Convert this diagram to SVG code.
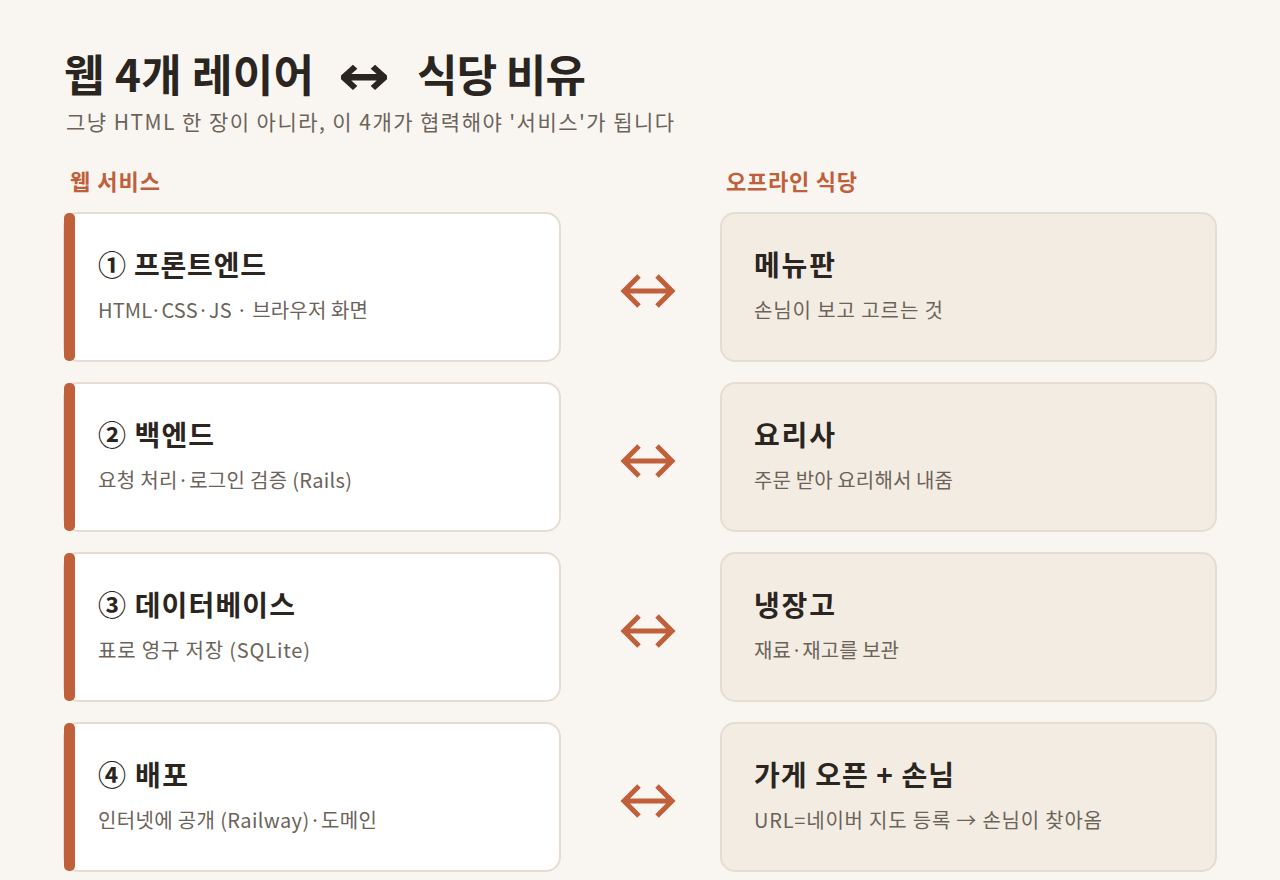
<svg xmlns="http://www.w3.org/2000/svg" width="1280" height="880" viewBox="0 0 1280 880">
<defs>
<style>
text{font-family:"Noto Sans CJK KR","Noto Sans",sans-serif}
.title{font-size:44px;font-weight:700;fill:#2a2520}
.sym{font-family:"DejaVu Sans",sans-serif;font-size:56px;font-weight:700;fill:#2a2520}
.sub{font-size:21px;fill:#6b635a}
.sec{font-size:22px;font-weight:700;fill:#c0603a}
.lcard{fill:#ffffff;stroke:#e6ddd2;stroke-width:2}
.rcard{fill:#f3ece2;stroke:#e6ddd2;stroke-width:2}
.bar{fill:#c0603a}
.ct{font-size:28px;font-weight:700;fill:#2a2520}
.cs{font-size:20px;fill:#6b635a}
.arr{fill:none;stroke:#c0603a;stroke-width:5;stroke-linecap:butt;stroke-linejoin:miter}
</style>
</defs>
<rect width="1280" height="880" fill="#f9f6f1"/>
<text class="title" x="64" y="92" textLength="250">웹 4개 레이어</text>
<text class="sym" x="338" y="95" textLength="52" lengthAdjust="spacingAndGlyphs">↔</text>
<text class="title" x="417" y="92" textLength="169">식당 비유</text>
<text class="sub" x="66" y="130" textLength="608">그냥 HTML 한 장이 아니라, 이 4개가 협력해야 '서비스'가 됩니다</text>
<text class="sec" x="70" y="190" textLength="90">웹 서비스</text>
<text class="sec" x="726" y="190" textLength="131">오프라인 식당</text>

<g id="front">
<rect class="lcard" x="64" y="213" width="496" height="148" rx="14"/>
<rect class="bar" x="64" y="213" width="11" height="148" rx="5"/>
<text class="ct" x="98" y="276" textLength="168">① 프론트엔드</text>
<text class="cs" x="98" y="318" textLength="270">HTML·CSS·JS · 브라우저 화면</text>
</g>
<g id="back">
<rect class="lcard" x="64" y="383" width="496" height="148" rx="14"/>
<rect class="bar" x="64" y="383" width="11" height="148" rx="5"/>
<text class="ct" x="98" y="446" textLength="116">② 백엔드</text>
<text class="cs" x="98" y="488" textLength="254">요청 처리·로그인 검증 (Rails)</text>
</g>
<g id="db">
<rect class="lcard" x="64" y="553" width="496" height="148" rx="14"/>
<rect class="bar" x="64" y="553" width="11" height="148" rx="5"/>
<text class="ct" x="98" y="616" textLength="197">③ 데이터베이스</text>
<text class="cs" x="98" y="658" textLength="212">표로 영구 저장 (SQLite)</text>
</g>
<g id="deploy">
<rect class="lcard" x="64" y="723" width="496" height="148" rx="14"/>
<rect class="bar" x="64" y="723" width="11" height="148" rx="5"/>
<text class="ct" x="98" y="786" textLength="90">④ 배포</text>
<text class="cs" x="98" y="828" textLength="279">인터넷에 공개 (Railway)·도메인</text>
</g>

<g id="menu">
<rect class="rcard" x="721" y="213" width="495" height="148" rx="14"/>
<text class="ct" x="754" y="276" textLength="81">메뉴판</text>
<text class="cs" x="754" y="318" textLength="189">손님이 보고 고르는 것</text>
</g>
<g id="chef">
<rect class="rcard" x="721" y="383" width="495" height="148" rx="14"/>
<text class="ct" x="754" y="446" textLength="81">요리사</text>
<text class="cs" x="754" y="488" textLength="199">주문 받아 요리해서 내줌</text>
</g>
<g id="fridge">
<rect class="rcard" x="721" y="553" width="495" height="148" rx="14"/>
<text class="ct" x="754" y="616" textLength="81">냉장고</text>
<text class="cs" x="754" y="658" textLength="145">재료·재고를 보관</text>
</g>
<g id="store">
<rect class="rcard" x="721" y="723" width="495" height="148" rx="14"/>
<text class="ct" x="754" y="786" textLength="200">가게 오픈 + 손님</text>
<text class="cs" x="754" y="828" textLength="348">URL=네이버 지도 등록 → 손님이 찾아옴</text>
</g>

<g id="connectors">
<path class="arr" d="M626 291H670M639 276L624 291L639 306M657 276L672 291L657 306"/>
<path class="arr" d="M626 461H670M639 446L624 461L639 476M657 446L672 461L657 476"/>
<path class="arr" d="M626 631H670M639 616L624 631L639 646M657 616L672 631L657 646"/>
<path class="arr" d="M626 801H670M639 786L624 801L639 816M657 786L672 801L657 816"/>
</g>
</svg>
